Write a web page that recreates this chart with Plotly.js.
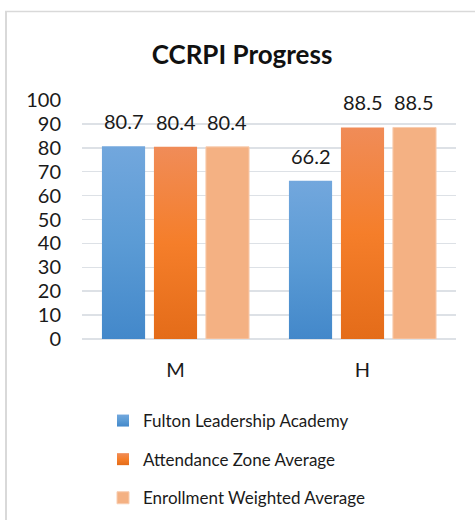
<!DOCTYPE html>
<html>
<head>
<meta charset="utf-8">
<script src="https://cdn.plot.ly/plotly-3.0.1.min.js"></script>
<style>
  html, body { margin: 0; padding: 0; background: #fff; }
  #chart { width: 475px; height: 520px; }
</style>
</head>
<body>
<div id="chart"></div>
<script>
const categories = ["M", "H"];
const seriesNames = ["Fulton Leadership Academy", "Attendance Zone Average", "Enrollment Weighted Average"];
const fultonValues = [80.7, 66.2];
const attendanceValues = [80.4, 88.5];
const enrollmentValues = [80.4, 88.5];
const yTickValues = [0, 10, 20, 30, 40, 50, 60, 70, 80, 90, 100];

const allValues = [fultonValues, attendanceValues, enrollmentValues];
const baseColors = ["#5b9bd5", "#ed7d31", "#f4b183"];
const gradients = [
  ["#72a7dd", "#5b9bd5", "#4388ca"],
  ["#f08c58", "#f57e2a", "#e46c19"],
  ["#f4b183", "#f4b183", "#f4b183"]
];
const FONT = "Lato, 'Open Sans', sans-serif";
const TXT = "#1a1a1a";
const bargap = 0.166;

const traces = allValues.map((vals, i) => ({
  type: "bar",
  name: seriesNames[i],
  x: categories,
  y: vals,
  legendgroup: "g" + i,
  marker: {
    color: baseColors[i],
    line: { color: i === 2 ? "#f8cdb0" : "rgba(0,0,0,0)", width: i === 2 ? 1 : 0 }
  },
  hoverinfo: "x+y+name"
}));

const slot = (1 - bargap) / 3;
const annotations = [];
allValues.forEach((vals, i) => {
  vals.forEach((v, ci) => {
    annotations.push({
      x: ci + (i - 1) * slot,
      y: v,
      xref: "x",
      yref: "y",
      text: v.toFixed(1),
      showarrow: false,
      yanchor: "bottom",
      yshift: 11,
      font: { family: FONT, size: 20, color: TXT }
    });
  });
});

const PT = 100, PB = 339, PL = 82, PR = 456;
const py = px => (PB - px) / (PB - PT);
const pxX = px => (px - PL) / (PR - PL);
const shapes = [
  { type: "line", xref: "paper", yref: "paper",
    x0: pxX(6), x1: pxX(6), y0: py(11), y1: py(525),
    line: { color: "#d9d9d9", width: 2 } },
  { type: "line", xref: "paper", yref: "paper",
    x0: pxX(5), x1: pxX(480), y0: py(11.5), y1: py(11.5),
    line: { color: "#d9d9d9", width: 1.5 } }
];

const layout = {
  width: 475,
  height: 520,
  margin: { l: 82, r: 19, t: 100, b: 181, autoexpand: false },
  paper_bgcolor: "#fff",
  plot_bgcolor: "#fff",
  font: { family: FONT, color: TXT },
  title: {
    text: "<b>CCRPI Progress</b>",
    font: { family: FONT, size: 26, color: "#111" },
    xref: "container", yref: "container",
    x: 242 / 475, xanchor: "center",
    y: 1 - 55 / 520, yanchor: "middle"
  },
  barmode: "group",
  bargap: bargap,
  bargroupgap: 0.17,
  showlegend: true,
  legend: {
    orientation: "v",
    x: pxX(103), xanchor: "left",
    y: py(403), yanchor: "top",
    traceorder: "grouped",
    tracegroupgap: 13.5,
    font: { family: FONT, size: 17, color: TXT },
    bgcolor: "rgba(0,0,0,0)"
  },
  xaxis: {
    type: "category",
    showgrid: false,
    showline: false,
    zeroline: false,
    ticks: "",
    ticklabelstandoff: 17,
    tickfont: { family: FONT, size: 20, color: TXT },
    fixedrange: true
  },
  yaxis: {
    range: [0, 100],
    tickvals: yTickValues,
    ticktext: yTickValues.map(String),
    showgrid: true,
    gridcolor: "#dde1e6",
    gridwidth: 1.5,
    zeroline: true,
    zerolinecolor: "#dde1e6",
    zerolinewidth: 1.5,
    showline: false,
    ticks: "",
    ticklabelstandoff: 20,
    tickfont: { family: FONT, size: 20, color: TXT },
    fixedrange: true
  },
  annotations: annotations,
  shapes: shapes
};

function applyGradients(gd) {
  const svg = gd.querySelector("svg.main-svg");
  if (!svg) return;
  const ns = "http://www.w3.org/2000/svg";
  let defs = svg.querySelector("defs");
  if (!defs) { defs = document.createElementNS(ns, "defs"); svg.insertBefore(defs, svg.firstChild); }
  gradients.forEach((stops, i) => {
    const id = "barGrad" + i;
    if (svg.querySelector("#" + id)) return;
    const lg = document.createElementNS(ns, "linearGradient");
    lg.setAttribute("id", id);
    lg.setAttribute("x1", "0"); lg.setAttribute("y1", "0");
    lg.setAttribute("x2", "0"); lg.setAttribute("y2", "1");
    stops.forEach((c, k) => {
      const s = document.createElementNS(ns, "stop");
      s.setAttribute("offset", (k / (stops.length - 1)).toString());
      s.setAttribute("stop-color", c);
      lg.appendChild(s);
    });
    defs.appendChild(lg);
  });
  gd.querySelectorAll(".barlayer .trace").forEach((t, i) => {
    t.querySelectorAll("path").forEach(p => { p.style.fill = "url(#barGrad" + i + ")"; });
  });
  gd.querySelectorAll(".legend .traces").forEach((t, i) => {
    t.querySelectorAll(".legendpoints path").forEach(p => { p.style.fill = "url(#barGrad" + i + ")"; });
  });
}

const gd = document.getElementById("chart");
Plotly.newPlot(gd, traces, layout, { displayModeBar: false, staticPlot: true }).then(() => applyGradients(gd));
</script>
</body>
</html>
